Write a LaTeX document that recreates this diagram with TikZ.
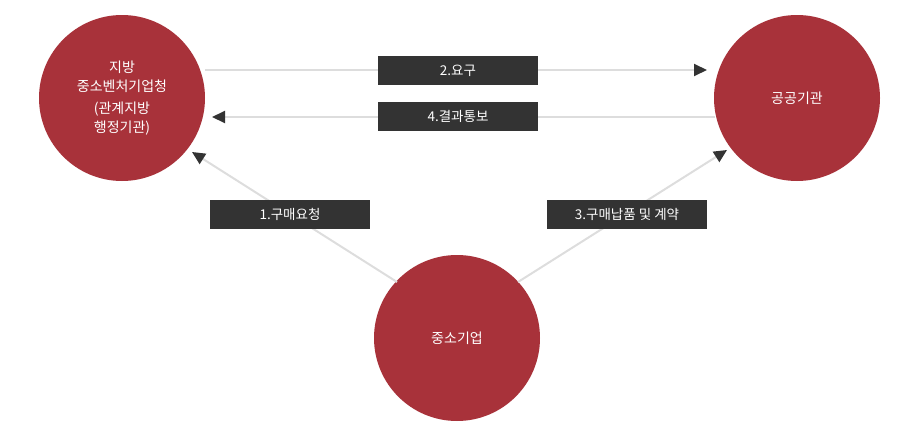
\documentclass[tikz,border=0pt]{standalone}
\usepackage{fontspec}
\setmainfont{Noto Sans CJK KR}
\usetikzlibrary{arrows.meta}
\definecolor{cred}{HTML}{A8323A}
\definecolor{cbox}{HTML}{333333}
\definecolor{cline}{HTML}{DDDDDD}
\begin{document}
\begin{tikzpicture}[x=1pt,y=-1pt,
  org/.style={circle,fill=cred,minimum size=166pt,inner sep=0pt,text=white,font=\fontsize{14}{19}\selectfont,align=center},
  lbl/.style={fill=cbox,text=white,minimum width=160pt,minimum height=29pt,inner sep=0pt,font=\fontsize{13.5}{16}\selectfont},
  conn/.style={draw=cline,line width=2pt,-{Triangle[length=13pt,width=12pt,color=cbox]}}]
\useasboundingbox (0,0) rectangle (903,431);
\node[org] (L) at (122,98) {지방\\중소벤처기업청\\[3pt](관계지방\\행정기관)};
\node[org] (R) at (797,98) {공공기관};
\node[org] (B) at (457,338) {중소기업};
\coordinate (t1) at (205,70); \coordinate (t2) at (707,70);
\coordinate (u1) at (715,117); \coordinate (u2) at (212,117);
\coordinate (d1) at (397,282); \coordinate (d2) at (192,152);
\coordinate (e1) at (518,282); \coordinate (e2) at (727,150);
\draw[conn] (t1) -- (t2);
\draw[conn] (u1) -- (u2);
\draw[conn] (d1) -- (d2);
\draw[conn] (e1) -- (e2);
\node[lbl] (a2) at (458,70.5) {2.요구};
\node[lbl] (a4) at (458,116) {4.결과통보};
\node[lbl] (a1) at (290,214.5) {1.구매요청};
\node[lbl] (a3) at (627,214.5) {3.구매납품 및 계약};
\end{tikzpicture}
\end{document}
